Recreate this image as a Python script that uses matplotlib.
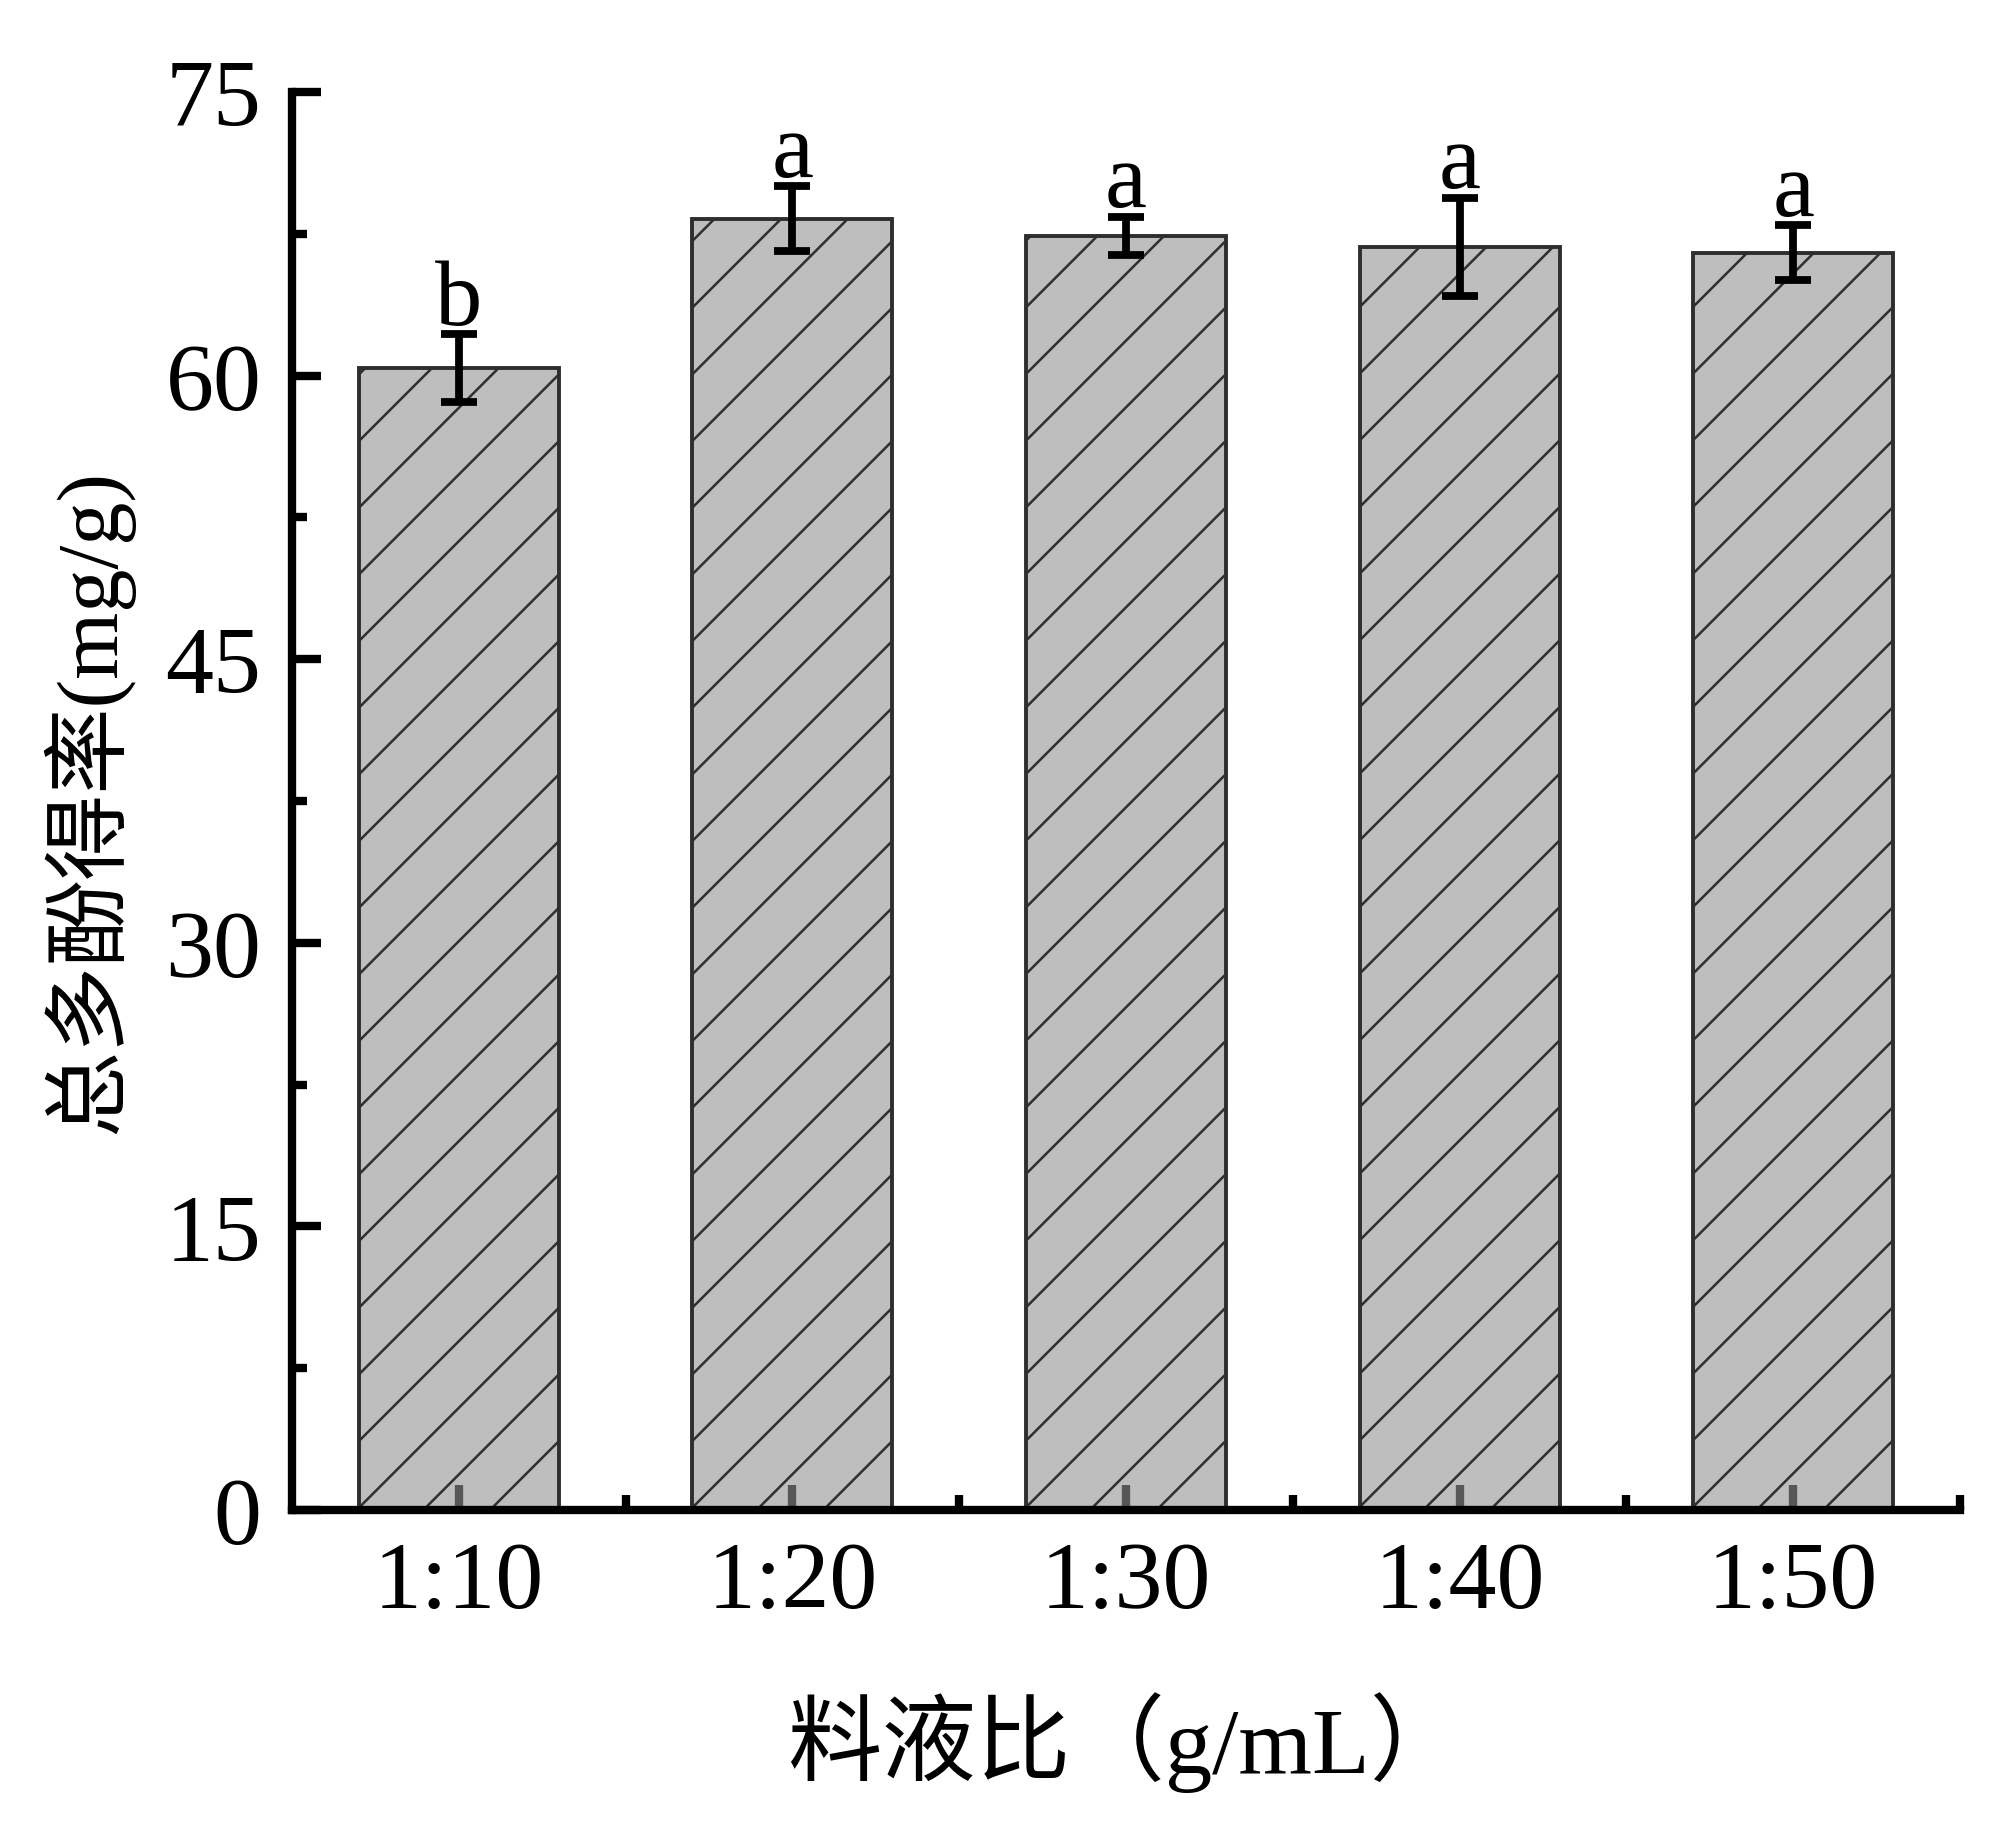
import matplotlib
matplotlib.use("Agg")
import matplotlib.pyplot as plt
import numpy as np
from matplotlib.ticker import FixedLocator, MultipleLocator

# data
ratios = ["1:10", "1:20", "1:30", "1:40", "1:50"]
yields = [60.4, 68.3, 67.4, 66.8, 66.5]
errors = [1.8, 1.7, 1.0, 2.6, 1.45]
letters = ["b", "a", "a", "a", "a"]
y_ticks = [0, 15, 30, 45, 60, 75]

plt.rcParams["font.family"] = ["Liberation Serif", "Noto Sans CJK SC"]
plt.rcParams["hatch.linewidth"] = 0.9
plt.rcParams["axes.unicode_minus"] = False

fig = plt.figure(figsize=(10, 9.165), dpi=200)
ax = fig.add_axes([0.146, 0.1757, 0.834, 0.7736])

x = np.arange(len(ratios))
ax.set_axisbelow(True)
ax.bar(
    x,
    yields,
    width=0.6,
    facecolor=(0.576, 0.576, 0.576, 0.6),
    edgecolor="#2e2e2e",
    linewidth=1.4,
    hatch="/",
    zorder=1,
)
ax.errorbar(
    x,
    yields,
    yerr=errors,
    fmt="none",
    ecolor="black",
    elinewidth=2.8,
    capsize=6.5,
    capthick=2.8,
    zorder=3,
)
for xi, val, err, lab in zip(x, yields, errors, letters):
    ax.text(xi, val + err + 0.55, lab, ha="center", va="baseline",
            fontsize=34, zorder=4)

ax.set_xlim(-0.5, 4.5)
ax.set_ylim(0, 75)
ax.set_xticks(x)
ax.set_xticklabels(ratios)
ax.xaxis.set_minor_locator(FixedLocator([0.5, 1.5, 2.5, 3.5, 4.5]))
ax.set_yticks(y_ticks)
ax.yaxis.set_minor_locator(MultipleLocator(7.5))

for side in ("top", "right"):
    ax.spines[side].set_visible(False)
for side in ("left", "bottom"):
    ax.spines[side].set_linewidth(3.0)

ax.tick_params(axis="both", which="major", direction="in", width=3.0,
               labelsize=34.5)
ax.tick_params(axis="y", which="major", length=10.5, pad=11)
ax.tick_params(axis="x", which="major", length=9, pad=11)
ax.tick_params(axis="both", which="minor", direction="in", width=3.0,
               length=5.5)

ax.set_ylabel("总多酚得率(mg/g)", fontsize=31)
ax.yaxis.set_label_coords(-0.095, 0.5)
ax.set_xlabel("料液比（g/mL）", fontsize=34)
ax.xaxis.set_label_coords(0.5, -0.128)

fig.savefig("out.png", dpi=200, facecolor="white")
